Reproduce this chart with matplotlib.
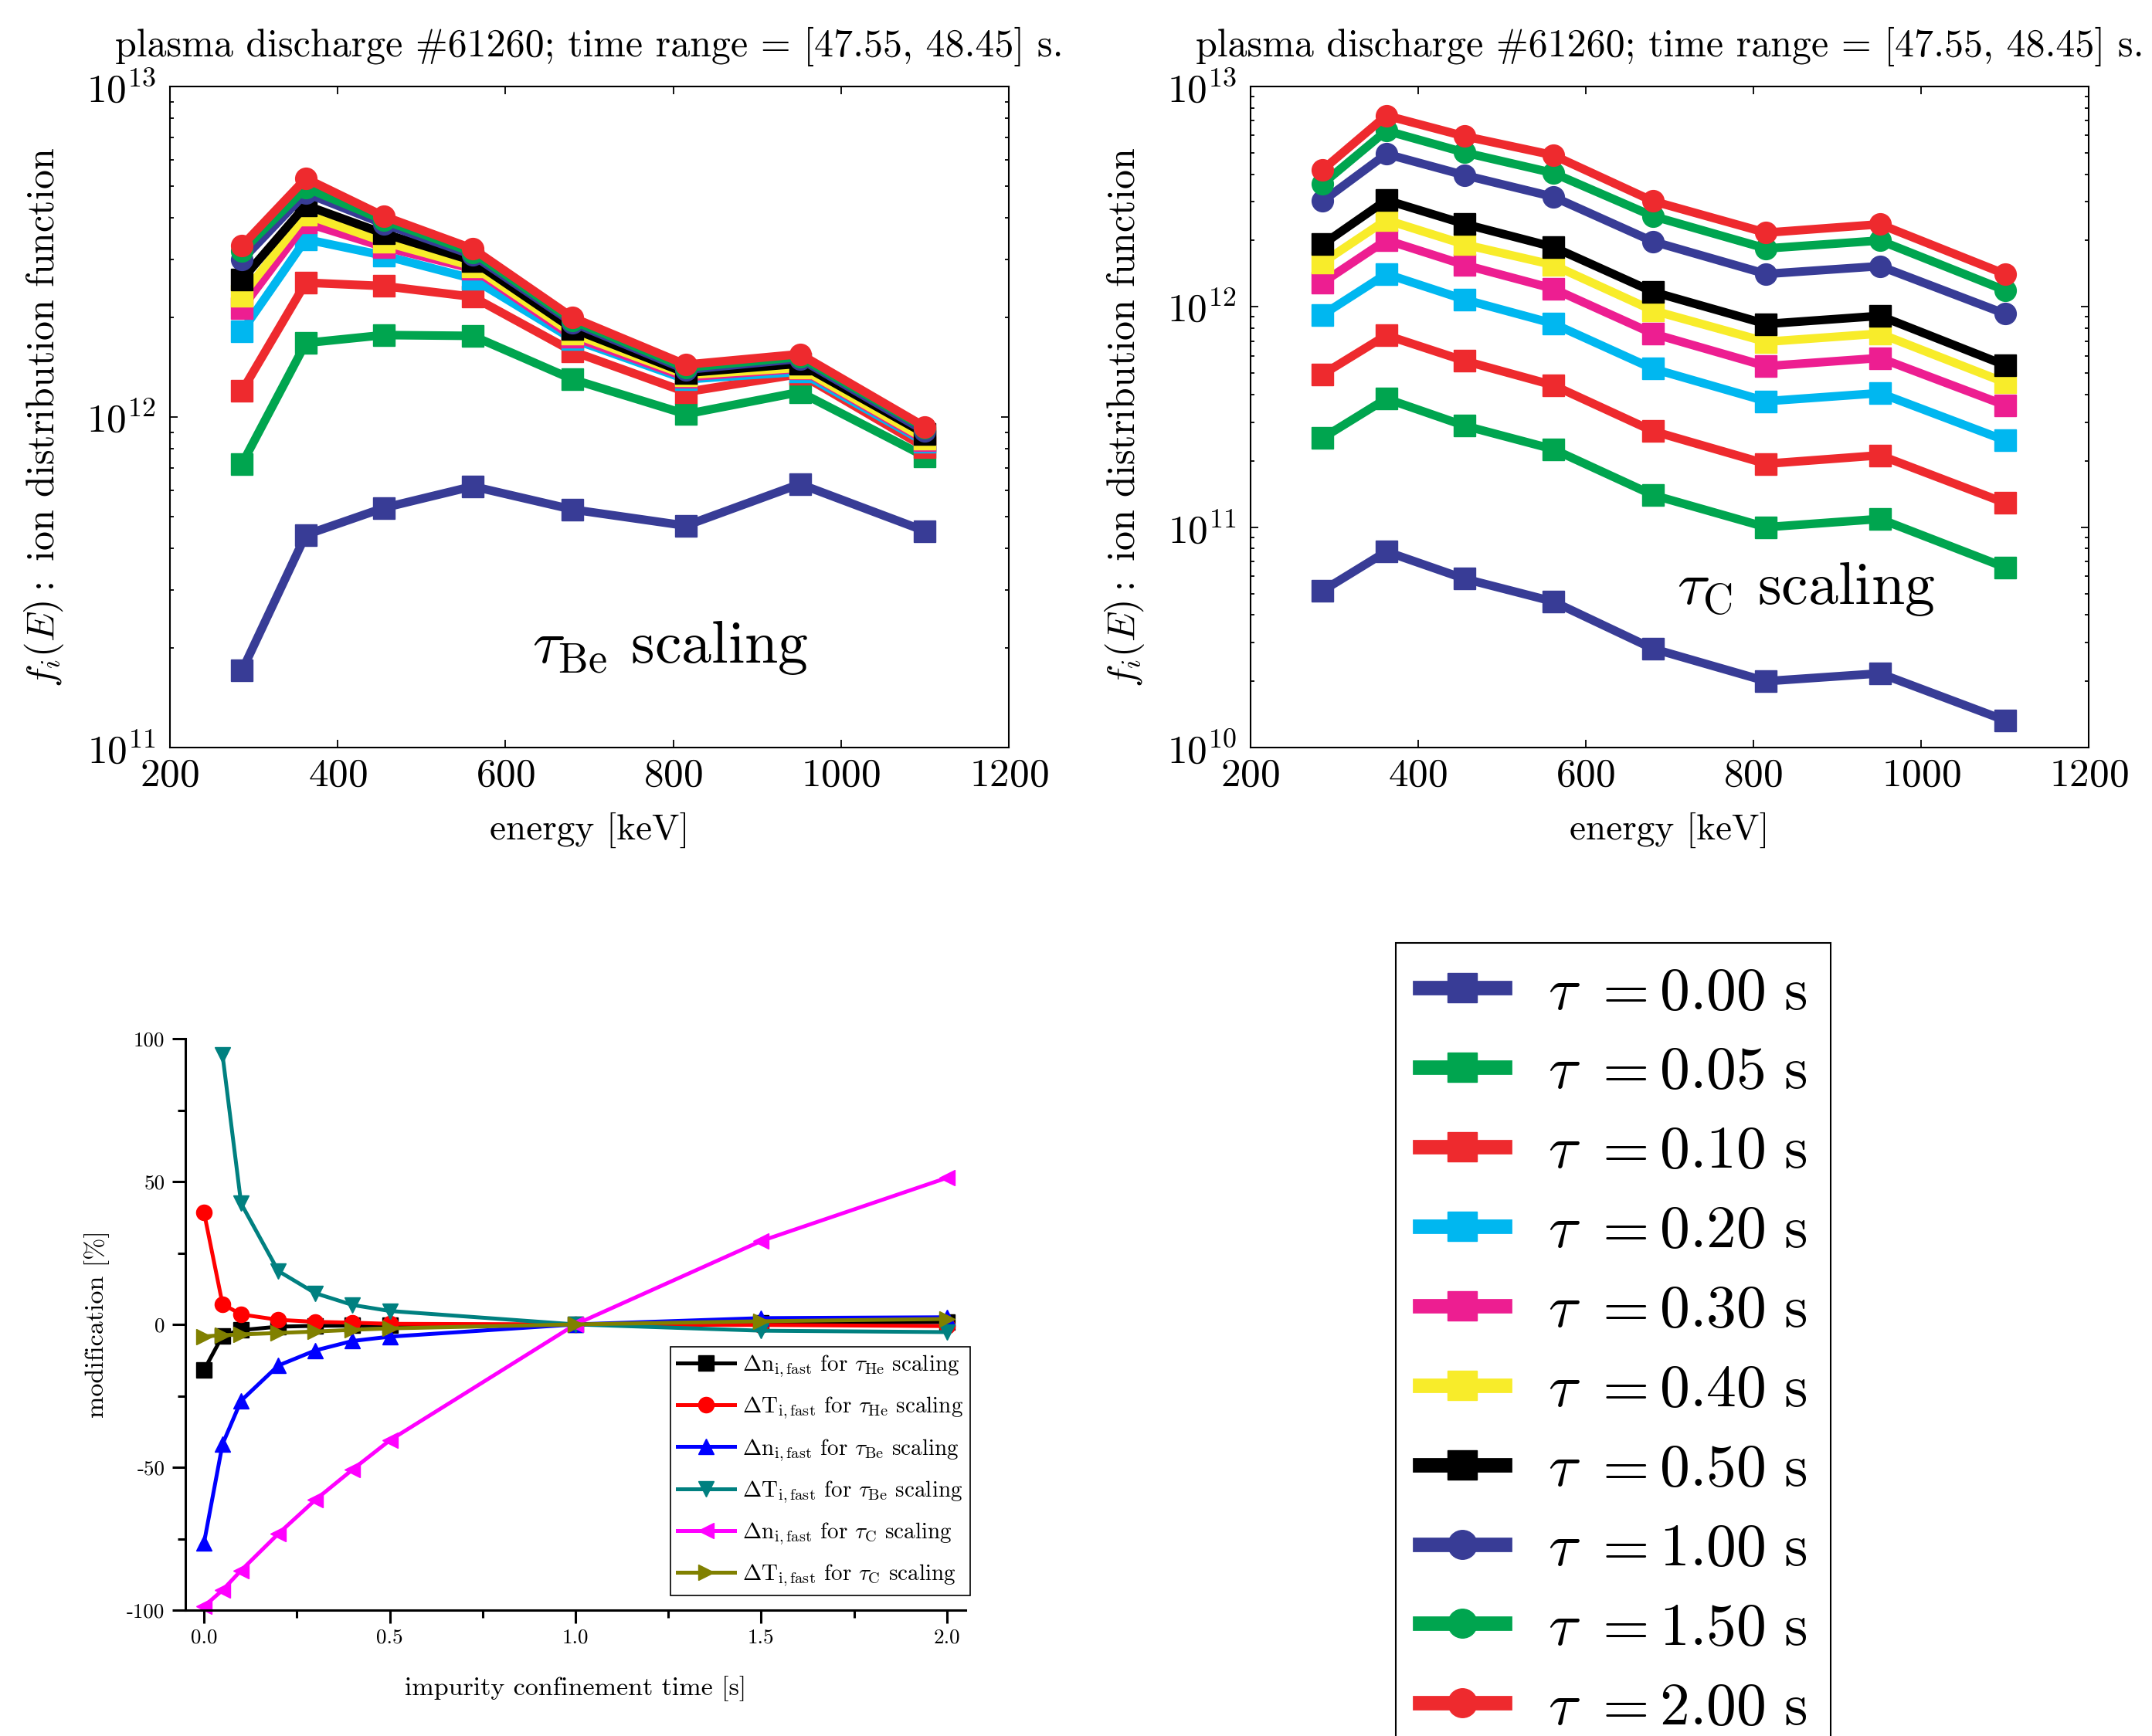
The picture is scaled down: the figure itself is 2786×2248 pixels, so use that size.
import numpy as np
import matplotlib
matplotlib.use('Agg')
import matplotlib.pyplot as plt
from matplotlib.lines import Line2D
from matplotlib.ticker import FixedLocator, FuncFormatter, LogLocator, NullFormatter

plt.rcParams['font.family'] = 'serif'
plt.rcParams['font.serif'] = ['cmr10']
plt.rcParams['mathtext.fontset'] = 'cm'
plt.rcParams['axes.formatter.use_mathtext'] = True
plt.rcParams['axes.unicode_minus'] = False

# ---------------- data ----------------
energy = [286, 362, 455, 561, 680, 815, 951, 1100]
tau_labels = ['0.00', '0.05', '0.10', '0.20', '0.30', '0.40', '0.50', '1.00', '1.50', '2.00']
colors = ['#383C96', '#00A54F', '#EE2A2E', '#00B7F0', '#ED1E91', '#F8EC2A', '#000000',
          '#383C96', '#00A54F', '#EE2A2E']
markers = ['s', 's', 's', 's', 's', 's', 's', 'o', 'o', 'o']

fi_Be = [
    [1.71e11, 4.40e11, 5.31e11, 6.17e11, 5.25e11, 4.69e11, 6.27e11, 4.52e11],
    [7.22e11, 1.675e12, 1.77e12, 1.76e12, 1.30e12, 1.02e12, 1.19e12, 7.6e11],
    [1.20e12, 2.55e12, 2.49e12, 2.31e12, 1.58e12, 1.19e12, 1.35e12, 8.1e11],
    [1.82e12, 3.45e12, 3.08e12, 2.62e12, 1.72e12, 1.30e12, 1.37e12, 8.4e11],
    [2.14e12, 3.87e12, 3.27e12, 2.81e12, 1.75e12, 1.32e12, 1.40e12, 8.5e11],
    [2.33e12, 4.10e12, 3.39e12, 2.86e12, 1.79e12, 1.34e12, 1.41e12, 8.6e11],
    [2.61e12, 4.37e12, 3.59e12, 2.97e12, 1.85e12, 1.36e12, 1.45e12, 8.9e11],
    [2.99e12, 4.76e12, 3.84e12, 3.09e12, 1.93e12, 1.39e12, 1.50e12, 9.06e11],
    [3.18e12, 4.94e12, 3.94e12, 3.15e12, 1.96e12, 1.41e12, 1.52e12, 9.25e11],
    [3.30e12, 5.27e12, 4.05e12, 3.23e12, 2.00e12, 1.44e12, 1.55e12, 9.34e11],
]

fi_C = [
    [5.15e10, 7.75e10, 5.84e10, 4.60e10, 2.81e10, 2.00e10, 2.17e10, 1.33e10],
    [2.54e11, 3.83e11, 2.89e11, 2.26e11, 1.40e11, 1.00e11, 1.09e11, 6.58e10],
    [4.94e11, 7.43e11, 5.69e11, 4.41e11, 2.73e11, 1.94e11, 2.12e11, 1.29e11],
    [9.20e11, 1.41e12, 1.08e12, 8.40e11, 5.24e11, 3.73e11, 4.06e11, 2.48e11],
    [1.29e12, 2.01e12, 1.55e12, 1.21e12, 7.56e11, 5.38e11, 5.86e11, 3.58e11],
    [1.59e12, 2.48e12, 1.92e12, 1.55e12, 9.63e11, 6.94e11, 7.56e11, 4.54e11],
    [1.92e12, 3.05e12, 2.38e12, 1.87e12, 1.17e12, 8.36e11, 9.10e11, 5.44e11],
    [3.02e12, 4.94e12, 3.96e12, 3.16e12, 1.98e12, 1.41e12, 1.53e12, 9.31e11],
    [3.62e12, 6.30e12, 5.02e12, 4.05e12, 2.58e12, 1.84e12, 2.00e12, 1.19e12],
    [4.19e12, 7.38e12, 5.95e12, 4.88e12, 3.02e12, 2.17e12, 2.37e12, 1.41e12],
]

conf_time = [0.0, 0.05, 0.1, 0.2, 0.3, 0.4, 0.5, 1.0, 1.5, 2.0]
dn_He = [-16.0, -4.0, -2.0, -0.8, -0.5, -0.4, -0.3, 0.0, 0.5, 0.8]
dT_He = [39.3, 7.1, 3.5, 1.6, 0.9, 0.6, 0.2, 0.0, -0.2, -0.6]
dn_Be = [-76.6, -41.9, -26.7, -14.4, -9.1, -5.8, -4.3, 0.0, 2.2, 2.5]
dT_Be = [np.nan, 94.3, 42.3, 18.7, 10.9, 6.8, 4.7, 0.0, -2.2, -2.7]
dn_C = [-98.7, -93.0, -86.1, -73.3, -61.4, -50.8, -40.6, 0.0, 29.2, 51.3]
dT_C = [-4.2, -3.8, -3.5, -3.0, -2.5, -1.9, -1.4, 0.0, 1.1, 1.9]

mod_series = [
    (dn_He, 'black', 's', r'$\Delta\mathrm{n}_{\mathrm{i,fast}}$ for $\tau_{\mathrm{He}}$ scaling'),
    (dT_He, '#FF0000', 'o', r'$\Delta\mathrm{T}_{\mathrm{i,fast}}$ for $\tau_{\mathrm{He}}$ scaling'),
    (dn_Be, '#0000FF', '^', r'$\Delta\mathrm{n}_{\mathrm{i,fast}}$ for $\tau_{\mathrm{Be}}$ scaling'),
    (dT_Be, '#008080', 'v', r'$\Delta\mathrm{T}_{\mathrm{i,fast}}$ for $\tau_{\mathrm{Be}}$ scaling'),
    (dn_C, '#FF00FF', '<', r'$\Delta\mathrm{n}_{\mathrm{i,fast}}$ for $\tau_{\mathrm{C}}$ scaling'),
    (dT_C, '#808000', '>', r'$\Delta\mathrm{T}_{\mathrm{i,fast}}$ for $\tau_{\mathrm{C}}$ scaling'),
]

title_txt = 'plasma discharge #61260; time range = [47.55, 48.45] s.'

# ---------------- figure ----------------
W, H = 2786, 2248
fig = plt.figure(figsize=(W / 100, H / 100), dpi=100)


def fpos(l, t, r, b):
    return [l / W, 1 - b / H, (r - l) / W, (b - t) / H]


def style_top(ax, ylim, note, note_xy):
    ax.set_yscale('log')
    ax.set_xlim(200, 1200)
    ax.set_ylim(*ylim)
    ax.xaxis.set_major_locator(FixedLocator([200, 400, 600, 800, 1000, 1200]))
    ax.yaxis.set_major_locator(LogLocator(base=10, numticks=10))
    ax.yaxis.set_minor_locator(LogLocator(base=10, subs=np.arange(2, 10), numticks=20))
    ax.yaxis.set_minor_formatter(NullFormatter())
    ax.tick_params(which='both', direction='in', top=True, right=True, width=1.3)
    ax.tick_params(which='major', length=7)
    ax.tick_params(which='minor', length=3.5)
    ax.tick_params(axis='x', labelsize=37, pad=10)
    ax.tick_params(axis='y', labelsize=37, pad=13)
    for s in ax.spines.values():
        s.set_linewidth(1.5)
    ax.set_title(title_txt, fontsize=36, pad=28)
    ax.set_xlabel('energy [keV]', fontsize=34)
    ax.set_ylabel(r'$f_i(E):$ ion distribution function', fontsize=36)
    ax.xaxis.set_label_coords(0.5, -0.098)
    ax.yaxis.set_label_coords(-0.124, 0.5)
    ax.text(note_xy[0], note_xy[1], note, transform=ax.transAxes, fontsize=56,
            ha='left', va='baseline')


ax1 = fig.add_axes(fpos(220, 112, 1306, 968))
for vals, c, m in zip(fi_Be, colors, markers):
    ax1.plot(energy, vals, color=c, marker=m, lw=8, ms=20, mec=c)
style_top(ax1, (1e11, 1e13), r'$\tau_{\mathrm{Be}}$ scaling', (0.432, 0.128))

ax2 = fig.add_axes(fpos(1619, 112, 2704, 968))
for vals, c, m in zip(fi_C, colors, markers):
    ax2.plot(energy, vals, color=c, marker=m, lw=8, ms=20, mec=c)
style_top(ax2, (1e10, 1e13), r'$\tau_{\mathrm{C}}$ scaling', (0.509, 0.217))

# legend for tau values (bottom right)
handles = [Line2D([], [], color=c, marker=m, lw=13.5, ms=27, mec=c) for c, m in zip(colors, markers)]
labels = [r'$\tau\ =0.00\ \mathrm{s}$'.replace('0.00', t) for t in tau_labels]
leg = fig.legend(handles, labels, loc='upper left', bbox_to_anchor=(1807 / W, 1 - 1221 / H),
                 bbox_transform=fig.transFigure, borderaxespad=0, fontsize=56,
                 handlelength=1.41, handletextpad=0.72, borderpad=0.4, labelspacing=0.43,
                 numpoints=1, fancybox=False, edgecolor='black', framealpha=1)
leg.get_frame().set_linewidth(1.5)

# ---------------- bottom-left panel ----------------
ax3 = fig.add_axes(fpos(240, 1345, 1250, 2085))
for vals, c, m, lab in mod_series:
    ax3.plot(conf_time, vals, color=c, marker=m, lw=3.6, ms=14.5, mec=c, label=lab, clip_on=False)
ax3.set_xlim(-0.05, 2.05)
ax3.set_ylim(-100, 100)
ax3.spines['top'].set_visible(False)
ax3.spines['right'].set_visible(False)
for s in ('left', 'bottom'):
    ax3.spines[s].set_linewidth(2.2)
ax3.xaxis.set_major_locator(FixedLocator([0.0, 0.5, 1.0, 1.5, 2.0]))
ax3.xaxis.set_minor_locator(FixedLocator([0.25, 0.75, 1.25, 1.75]))
ax3.yaxis.set_major_locator(FixedLocator([-100, -50, 0, 50, 100]))
ax3.yaxis.set_minor_locator(FixedLocator([-75, -25, 25, 75]))
ax3.xaxis.set_major_formatter(FuncFormatter(lambda v, p: f'{v:.1f}'))
ax3.yaxis.set_major_formatter(FuncFormatter(lambda v, p: f'{int(round(v))}'))
ax3.tick_params(which='both', direction='out', width=2.2)
ax3.tick_params(which='major', length=12)
ax3.tick_params(which='minor', length=7)
ax3.tick_params(axis='x', labelsize=19.5, pad=5)
ax3.tick_params(axis='y', labelsize=19.5, pad=7)
ax3.set_xlabel('impurity confinement time [s]', fontsize=24.5)
ax3.set_ylabel('modification [%]', fontsize=24.5)
ax3.xaxis.set_label_coords(0.5, -0.115)
ax3.yaxis.set_label_coords(-0.097, 0.5)
leg3 = ax3.legend(loc='upper left', bbox_to_anchor=(868 / W, 1 - 1744 / H),
                  bbox_transform=fig.transFigure, borderaxespad=0, fontsize=21,
                  handlelength=2.55, handletextpad=0.33, borderpad=0.3, labelspacing=0.7,
                  numpoints=1, fancybox=False, edgecolor='black', framealpha=1)
leg3.get_frame().set_linewidth(1.2)

fig.savefig('out.png', dpi=100)
